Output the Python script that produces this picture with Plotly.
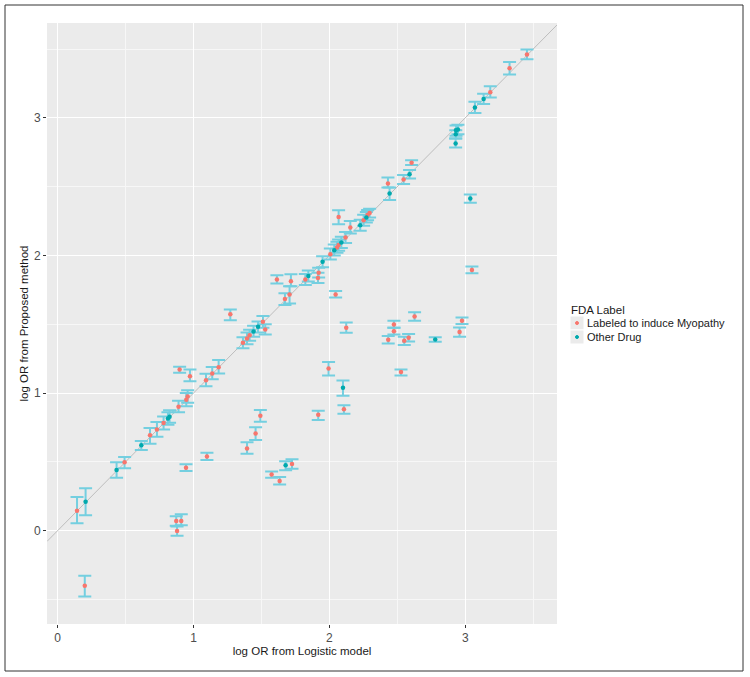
import plotly.graph_objects as go

# log OR from Logistic model (x), log OR from Proposed method (y), CI lower/upper, group
x_logistic = [0.143, 0.206, 0.200, 0.434, 0.493, 0.616, 0.680, 0.731, 0.780, 0.812,
              0.824, 0.890, 0.947, 0.957, 0.945, 1.099, 1.394, 1.457, 0.873, 0.910,
              0.879, 1.271, 1.511, 1.475, 1.528, 1.442, 1.413, 1.394, 1.364, 0.898,
              0.974, 1.185, 1.138, 1.092, 1.492, 1.918, 1.678, 1.725, 1.575, 1.634,
              2.605, 2.590, 2.546, 2.431, 2.443, 2.068, 2.296, 2.281, 2.272, 2.252,
              2.227, 2.154, 2.119, 2.088, 2.068, 2.056, 2.036, 2.007, 1.950, 1.845,
              1.823, 1.921, 1.916, 1.717, 1.707, 1.673, 2.046, 2.627, 2.124, 2.475,
              2.475, 2.433, 2.551, 2.583, 2.779, 2.976, 2.958, 2.527, 3.049, 1.994,
              2.100, 2.107, 3.454, 3.326, 3.184, 3.135, 3.071, 2.932, 2.946, 2.929,
              3.037, 1.614, 2.930]
y_proposed = [0.145, 0.211, -0.400, 0.441, 0.497, 0.620, 0.693, 0.736, 0.782, 0.816,
              0.828, 0.900, 0.952, 0.975, 0.458, 0.540, 0.598, 0.707, 0.070, 0.070,
              -0.002, 1.572, 1.518, 1.481, 1.462, 1.448, 1.421, 1.397, 1.365, 1.172,
              1.123, 1.187, 1.143, 1.094, 0.835, 0.843, 0.475, 0.484, 0.409, 0.361,
              2.673, 2.590, 2.552, 2.523, 2.450, 2.280, 2.309, 2.293, 2.276, 2.256,
              2.220, 2.203, 2.130, 2.094, 2.075, 2.058, 2.038, 2.009, 1.954, 1.850,
              1.826, 1.874, 1.837, 1.813, 1.717, 1.683, 1.717, 1.557, 1.474, 1.499,
              1.450, 1.388, 1.380, 1.402, 1.390, 1.525, 1.443, 1.153, 1.895, 1.179,
              1.039, 0.882, 3.460, 3.360, 3.186, 3.137, 3.075, 2.910, 2.915, 2.813,
              2.414, 1.826, 2.880]
y_lower = [0.054, 0.112, -0.479, 0.385, 0.453, 0.586, 0.632, 0.683, 0.735, 0.770,
           0.785, 0.860, 0.905, 0.930, 0.434, 0.513, 0.559, 0.659, 0.035, 0.040,
           -0.036, 1.530, 1.475, 1.440, 1.425, 1.410, 1.380, 1.355, 1.325, 1.147,
           1.085, 1.143, 1.100, 1.050, 0.792, 0.804, 0.440, 0.450, 0.385, 0.335,
           2.658, 2.560, 2.520, 2.494, 2.402, 2.227, 2.275, 2.255, 2.240, 2.215,
           2.180, 2.160, 2.090, 2.055, 2.035, 2.020, 2.000, 1.970, 1.915, 1.810,
           1.785, 1.840, 1.800, 1.777, 1.651, 1.640, 1.695, 1.525, 1.438, 1.475,
           1.425, 1.360, 1.350, 1.375, 1.373, 1.501, 1.409, 1.128, 1.871, 1.128,
           0.980, 0.850, 3.426, 3.314, 3.147, 3.100, 3.035, 2.870, 2.880, 2.784,
           2.382, 1.797, 2.850]
y_upper = [0.245, 0.308, -0.327, 0.497, 0.535, 0.651, 0.746, 0.790, 0.830, 0.860,
           0.875, 0.945, 1.000, 1.020, 0.482, 0.566, 0.642, 0.751, 0.105, 0.120,
           0.030, 1.608, 1.560, 1.520, 1.500, 1.490, 1.460, 1.440, 1.405, 1.191,
           1.172, 1.240, 1.190, 1.140, 0.877, 0.871, 0.505, 0.520, 0.430, 0.390,
           2.692, 2.620, 2.585, 2.566, 2.494, 2.329, 2.340, 2.330, 2.315, 2.295,
           2.260, 2.251, 2.170, 2.135, 2.115, 2.100, 2.080, 2.050, 1.995, 1.890,
           1.865, 1.910, 1.875, 1.864, 1.777, 1.725, 1.741, 1.588, 1.513, 1.525,
           1.475, 1.415, 1.410, 1.430, 1.405, 1.550, 1.477, 1.172, 1.920, 1.225,
           1.092, 0.911, 3.496, 3.406, 3.229, 3.175, 3.116, 2.945, 2.950, 2.850,
           2.443, 1.857, 2.910]
fda_label = ["L", "O", "L", "O", "L", "O", "L", "L", "L", "O",
             "O", "L", "L", "L", "L", "L", "L", "L", "L", "L",
             "L", "L", "L", "O", "L", "O", "L", "L", "L", "L",
             "L", "L", "L", "L", "L", "L", "O", "L", "L", "L",
             "L", "O", "L", "L", "O", "L", "L", "L", "O", "L",
             "O", "L", "L", "O", "L", "L", "O", "L", "O", "O",
             "L", "L", "L", "L", "L", "L", "L", "L", "L", "L",
             "L", "L", "L", "L", "O", "L", "L", "L", "L", "L",
             "O", "L", "L", "L", "L", "O", "O", "O", "O", "O",
             "O", "L", "O"]
groups = ["L", "O"]
group_names = {"L": "Labeled to induce Myopathy", "O": "Other Drug"}
group_colors = {"L": "#F8766D", "O": "#00A9AD"}
legend_title = "FDA Label"

x_range = [-0.078, 3.675]
y_range = [-0.678, 3.689]
ticks = [0, 1, 2, 3]

# figure geometry (pixels)
W, H = 750, 677
L, R, T, B = 47, 193, 23, 53
PW, PH = W - L - R, H - T - B


def px_x(px):
    return (px - L) / PW


def px_y(py):
    return (H - B - py) / PH


fig = go.Figure()

# identity line y = x
fig.add_trace(go.Scatter(x=x_range, y=x_range, mode="lines",
                         line=dict(color="#BDBDBD", width=1),
                         showlegend=False, hoverinfo="skip"))

# error bars
fig.add_trace(go.Scatter(
    x=x_logistic, y=y_proposed, mode="markers",
    marker=dict(size=1, opacity=0),
    error_y=dict(type="data", symmetric=False,
                 array=[u - y for u, y in zip(y_upper, y_proposed)],
                 arrayminus=[y - l for l, y in zip(y_lower, y_proposed)],
                 color="#74CFE0", thickness=2, width=6.5),
    showlegend=False, hoverinfo="skip"))

for g in groups:
    xs = [x for x, lab in zip(x_logistic, fda_label) if lab == g]
    ys = [y for y, lab in zip(y_proposed, fda_label) if lab == g]
    fig.add_trace(go.Scatter(x=xs, y=ys, mode="markers", name=group_names[g],
                             marker=dict(color=group_colors[g], size=4.5),
                             showlegend=False))

shapes = []
annotations = []
# outer frame
shapes.append(dict(type="rect", xref="paper", yref="paper",
                   x0=px_x(5), x1=px_x(743), y0=px_y(671), y1=px_y(5),
                   line=dict(color="#333333", width=1), fillcolor="rgba(0,0,0,0)",
                   layer="above"))
# manual ggplot-style legend
annotations.append(dict(text=legend_title, xref="paper", yref="paper",
                        x=px_x(569), y=px_y(309.5), xanchor="left", yanchor="middle",
                        showarrow=False, font=dict(size=11.5, color="#1A1A1A")))
for i, g in enumerate(groups):
    top = 316 + 14 * i
    shapes.append(dict(type="rect", xref="paper", yref="paper",
                       x0=px_x(570), x1=px_x(584), y0=px_y(top + 14), y1=px_y(top),
                       line=dict(color="white", width=1), fillcolor="#EBEBEB"))
    cy = top + 7
    shapes.append(dict(type="circle", xref="paper", yref="paper",
                       x0=px_x(575.5), x1=px_x(578.5), y0=px_y(cy + 1.5), y1=px_y(cy - 1.5),
                       line=dict(color=group_colors[g], width=1), fillcolor=group_colors[g]))
    annotations.append(dict(text=group_names[g], xref="paper", yref="paper",
                            x=px_x(585), y=px_y(cy), xanchor="left", yanchor="middle",
                            showarrow=False, font=dict(size=11, color="#1A1A1A")))

fig.update_layout(
    width=W, height=H,
    margin=dict(l=L, r=R, t=T, b=B),
    paper_bgcolor="white", plot_bgcolor="#EBEBEB",
    font=dict(family="Liberation Sans, Arial, sans-serif", color="#1A1A1A", size=12),
    showlegend=False,
    shapes=shapes, annotations=annotations,
    xaxis=dict(range=x_range, tickvals=ticks, ticktext=[str(t) for t in ticks],
               showgrid=True, gridcolor="white", gridwidth=1.3,
               minor=dict(dtick=0.5, tick0=0, showgrid=True, gridcolor="#F7F7F7", gridwidth=0.7),
               zeroline=False, showline=False,
               ticks="outside", ticklen=3, tickcolor="#333333",
               tickfont=dict(color="#4D4D4D", size=12),
               title=dict(text="log OR from Logistic model", font=dict(size=11.5), standoff=0),
               automargin=False),
    yaxis=dict(range=y_range, tickvals=ticks, ticktext=[str(t) for t in ticks],
               showgrid=True, gridcolor="white", gridwidth=1.3,
               minor=dict(dtick=0.5, tick0=0, showgrid=True, gridcolor="#F7F7F7", gridwidth=0.7),
               zeroline=False, showline=False,
               ticks="outside", ticklen=3, tickcolor="#333333",
               tickfont=dict(color="#4D4D4D", size=12),
               title=dict(text="log OR from Proposed method", font=dict(size=11.5), standoff=2),
               automargin=False),
)

fig.write_html("out.html", config={"displayModeBar": False},
               post_script="document.body.style.margin='0px';")
